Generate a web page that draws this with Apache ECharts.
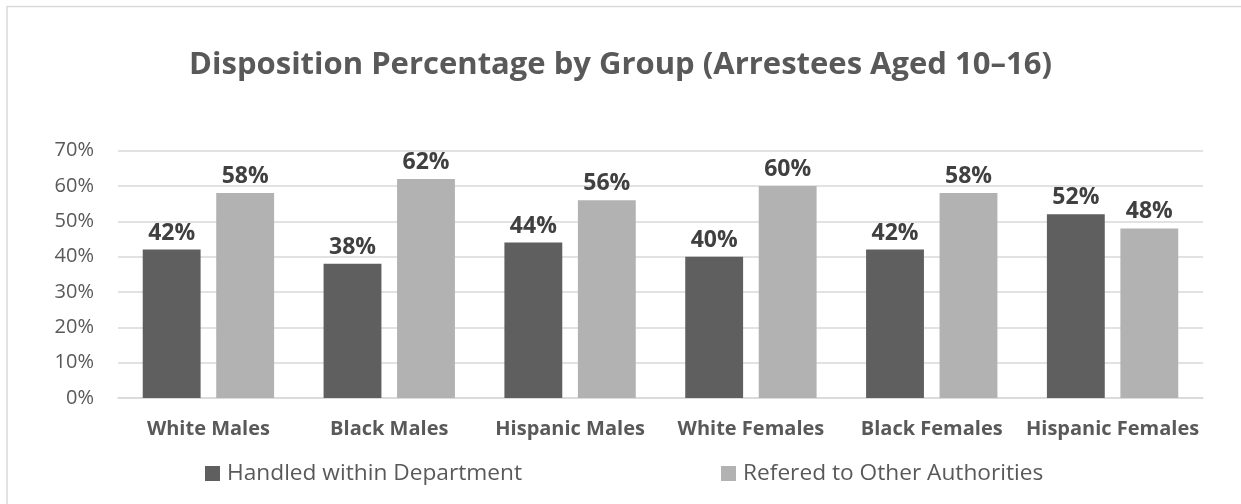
<!DOCTYPE html>
<html>
<head>
<meta charset="utf-8">
<script src="https://cdn.jsdelivr.net/npm/echarts@6/dist/echarts.min.js"></script>
<style>
  html, body { margin: 0; padding: 0; background: #ffffff; }
  #chart { width: 1241px; height: 504px; }
</style>
</head>
<body>
<div id="chart"></div>
<script>
// Groups along the category axis
const categories = ['White Males', 'Black Males', 'Hispanic Males', 'White Females', 'Black Females', 'Hispanic Females'];
// Share of arrestees (percent) by disposition
const handledWithin = [42, 38, 44, 40, 42, 52];
const referredOther = [58, 62, 56, 60, 58, 48];
const seriesNames = ['Handled within Department', 'Refered to Other Authorities'];
// Value axis ticks (percent)
const yMin = 0, yMax = 70, yStep = 10;

const FONT = '"Open Sans", "Noto Sans", sans-serif';
const TEXT = '#595959';

const chart = echarts.init(document.getElementById('chart'), null, { renderer: 'canvas' });

const labelStyle = {
  show: true,
  position: 'top',
  distance: 5,
  formatter: p => p.value + '%',
  fontFamily: FONT,
  fontWeight: 'bold',
  fontSize: 23,
  color: '#404040'
};

chart.setOption({
  animation: false,
  backgroundColor: '#ffffff',
  graphic: [{
    type: 'polyline',
    shape: { points: [[7, 510], [7, 6.5], [1250, 6.5]] },
    style: { stroke: '#d9d9d9', lineWidth: 1.5, fill: null },
    silent: true
  }],
  title: {
    text: 'Disposition Percentage by Group (Arrestees Aged 10\u201316)',
    left: 'center',
    top: 45,
    textStyle: { fontFamily: FONT, fontWeight: 'bold', fontSize: 31, color: TEXT }
  },
  legend: {
    top: 462,
    left: 205,
    padding: 0,
    itemGap: 199,
    itemWidth: 15,
    itemHeight: 15,
    icon: 'rect',
    textStyle: { fontFamily: FONT, fontSize: 22.7, color: TEXT, padding: [0, 0, 0, 2] },
    data: seriesNames
  },
  grid: { left: 118, right: 38, top: 150.7, bottom: 106, containLabel: false },
  xAxis: {
    type: 'category',
    data: categories,
    axisLine: { lineStyle: { color: '#d9d9d9', width: 1.5 } },
    axisTick: { show: false },
    axisLabel: { fontFamily: FONT, fontWeight: 'bold', fontSize: 20, color: TEXT, margin: 21, interval: 0 }
  },
  yAxis: {
    type: 'value',
    min: yMin,
    max: yMax,
    interval: yStep,
    axisLine: { show: false },
    axisTick: { show: false },
    splitLine: { lineStyle: { color: '#d9d9d9', width: 1.5 } },
    axisLabel: { fontFamily: FONT, fontSize: 20, color: TEXT, margin: 24, formatter: v => v + '%' }
  },
  series: [
    {
      name: seriesNames[0],
      type: 'bar',
      data: handledWithin,
      barWidth: '32%',
      barGap: '27%',
      itemStyle: { color: '#5f5f5f' },
      label: labelStyle
    },
    {
      name: seriesNames[1],
      type: 'bar',
      data: referredOther,
      barWidth: '32%',
      itemStyle: { color: '#b2b2b2' },
      label: labelStyle
    }
  ]
});
</script>
</body>
</html>
